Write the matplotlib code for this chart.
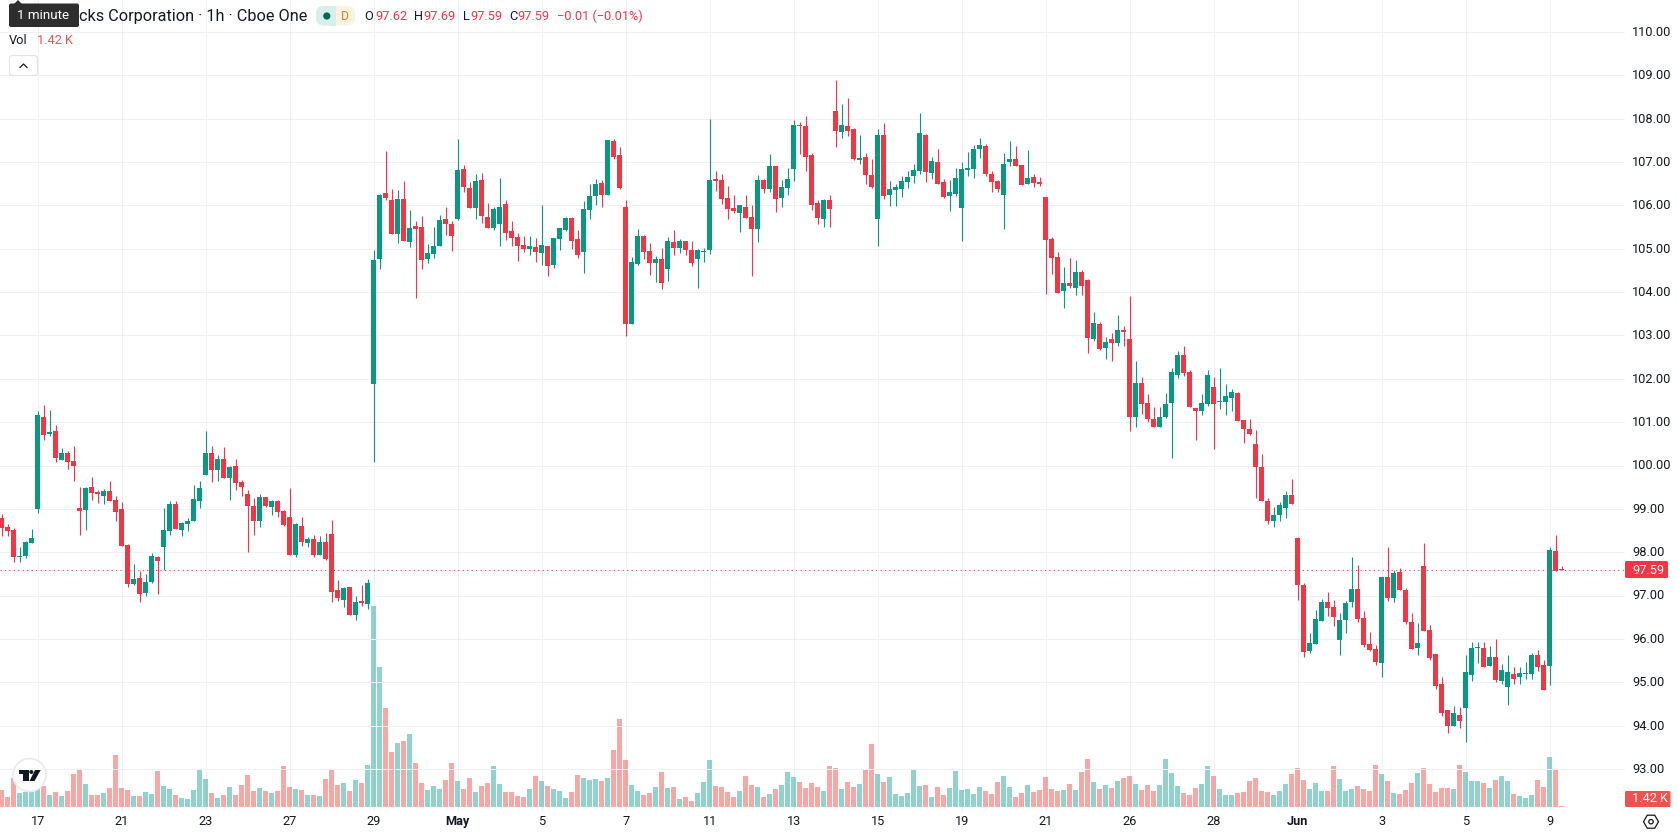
import matplotlib
matplotlib.use("Agg")
import matplotlib.pyplot as plt
from matplotlib.patches import Rectangle, FancyBboxPatch, Circle, Polygon, RegularPolygon
import numpy as np

plt.rcParams['font.family'] = ['Roboto', 'DejaVu Sans']

# Hourly session bars, oldest first; bar number 0 falls on the "17" date tick.
FIRST_BAR = -6
opens = [
    98.79,98.58,98.52,97.89,97.92,98.22,99.00,101.12,100.73,100.80,
    100.13,100.29,100.11,99.02,98.98,99.51,99.39,99.30,99.42,99.21,
    99.00,98.17,97.27,97.41,97.06,97.32,97.89,98.12,98.49,99.12,
    98.52,98.65,98.72,99.18,99.78,100.29,99.90,100.15,99.72,99.99,
    99.62,99.35,99.07,98.72,99.28,99.05,99.18,98.95,98.82,97.94,
    98.61,98.22,98.31,97.94,98.24,98.42,97.13,96.90,97.20,96.55,
    96.88,96.81,101.89,104.77,106.29,106.13,105.35,106.15,105.16,105.53,
    105.51,104.77,104.88,105.07,105.69,105.58,105.69,106.85,106.41,105.95,
    106.59,105.74,105.48,105.58,106.04,105.42,105.28,105.09,105.00,105.05,
    104.91,105.07,104.63,105.23,105.44,105.72,105.23,104.93,105.90,106.22,
    106.52,106.25,107.49,107.17,105.97,103.27,104.65,105.30,104.95,104.68,
    104.77,104.54,105.16,105.02,105.18,104.98,104.77,104.93,104.98,106.62,
    106.59,106.18,105.95,105.83,105.97,105.74,105.46,106.58,106.38,106.91,
    106.17,106.40,106.84,107.85,107.83,107.16,106.05,105.68,106.12,108.18,
    107.69,107.83,107.76,107.05,107.12,106.70,105.68,107.62,106.24,106.35,
    106.38,106.54,106.68,106.79,107.62,106.75,107.00,106.54,106.22,106.26,
    105.94,106.82,106.84,107.30,107.37,106.72,106.56,106.24,107.00,107.07,
    106.93,106.49,106.65,106.54,106.19,105.22,104.82,104.03,104.22,104.10,
    104.47,104.29,102.92,103.27,102.71,102.92,102.83,103.13,102.92,101.12,
    101.90,101.44,101.07,100.88,101.12,101.44,102.09,102.55,102.16,101.32,
    101.25,101.42,101.81,101.46,101.46,101.56,101.67,101.05,100.84,100.49,
    99.96,99.17,98.73,98.85,99.03,99.33,98.33,97.25,95.73,95.89,
    96.42,96.86,96.74,95.98,96.44,96.86,97.16,96.49,95.89,95.77,
    95.45,97.43,96.95,97.55,97.13,96.40,95.80,97.69,96.21,95.66,
    94.97,94.35,94.00,94.25,94.41,95.17,95.80,95.80,95.38,95.59,
    95.04,94.90,95.20,95.11,95.20,95.20,95.64,95.40,95.38,98.03,97.62,
]
closes = [
    98.56,98.49,97.89,97.92,98.24,98.33,101.17,100.71,100.78,100.18,
    100.29,100.08,99.99,98.95,99.48,99.37,99.35,99.42,99.18,98.93,
    98.15,97.27,97.38,97.04,97.32,97.92,97.80,98.52,99.12,98.54,
    98.68,98.72,99.23,99.48,100.29,99.90,100.15,99.72,99.97,99.60,
    99.51,99.07,98.72,99.28,99.07,99.18,98.93,98.63,97.94,98.65,
    98.24,98.31,97.94,98.24,97.85,97.08,96.95,97.18,96.55,96.85,
    96.83,97.29,104.73,106.25,106.18,105.35,106.15,105.18,105.48,105.46,
    104.75,104.91,105.07,105.67,105.58,105.30,106.82,106.43,105.95,106.57,
    105.76,105.48,105.92,105.97,105.37,105.25,105.07,105.00,105.07,104.93,
    105.09,104.61,105.25,105.48,105.72,105.18,104.86,105.92,106.22,106.50,
    106.25,107.52,107.12,106.41,103.27,104.70,105.30,104.93,104.68,104.77,
    104.22,105.18,105.02,105.18,104.98,104.68,104.98,104.95,106.59,106.57,
    106.15,105.92,105.86,106.02,105.72,105.46,106.59,106.38,106.91,106.15,
    106.42,106.61,107.85,107.83,107.12,106.01,105.71,106.12,105.92,107.72,
    107.85,107.72,107.07,107.09,106.70,106.42,107.62,106.22,106.38,106.42,
    106.56,106.65,106.82,107.67,106.77,107.02,106.49,106.19,106.31,106.63,
    106.84,106.86,107.30,107.39,106.72,106.54,106.38,106.95,107.07,106.91,
    106.47,106.63,106.52,106.49,105.20,104.78,103.99,104.22,104.13,104.47,
    104.13,102.95,103.29,102.69,102.85,102.83,103.13,103.08,101.12,101.90,
    101.42,101.07,100.88,101.12,101.42,102.16,102.55,102.14,101.35,101.25,
    101.44,102.09,101.42,101.49,101.60,101.69,101.02,100.84,100.72,99.96,
    99.17,98.71,98.85,99.10,99.33,99.12,97.25,95.70,95.91,96.46,
    96.86,96.72,96.51,96.44,96.83,97.16,96.46,95.87,95.75,95.47,
    97.43,96.95,97.52,97.13,96.40,95.77,95.91,96.19,95.57,94.92,
    94.30,94.00,94.28,94.11,95.24,95.80,95.82,95.36,95.59,95.06,
    95.29,95.24,95.08,95.22,95.22,95.64,95.36,94.81,98.05,97.57,97.59,
]
highs = [
    98.88,98.65,98.55,98.12,98.26,98.54,101.26,101.40,101.28,100.94,
    100.41,100.34,100.45,99.51,99.51,99.74,99.44,99.46,99.65,99.30,
    99.16,98.18,97.73,97.57,97.50,97.98,97.92,99.02,99.18,99.18,
    98.70,98.79,99.55,99.65,100.80,100.45,100.25,100.43,100.00,100.15,
    99.67,99.44,99.25,99.35,99.28,99.21,99.21,98.98,99.48,98.68,
    98.82,98.35,98.40,98.38,98.45,98.75,97.36,97.20,97.20,96.99,
    97.25,97.38,104.96,106.26,107.26,106.38,106.36,106.57,105.90,105.65,
    105.76,105.12,105.51,105.78,105.97,105.65,107.54,106.94,106.55,106.73,
    106.75,106.05,105.97,106.64,106.13,105.65,105.37,105.30,105.30,105.25,
    106.02,105.07,105.25,105.48,105.74,105.74,105.44,106.11,106.50,106.62,
    106.59,107.52,107.54,107.35,106.13,104.82,105.46,105.32,105.14,104.84,
    105.02,105.28,105.44,105.23,105.18,105.18,105.00,105.02,108.00,106.80,
    106.73,106.45,106.25,106.02,106.25,106.02,106.71,106.61,107.18,106.91,
    106.58,106.86,107.97,107.92,108.06,107.21,106.12,106.15,106.24,108.89,
    108.34,108.48,107.78,107.62,107.21,107.07,107.76,107.90,106.56,106.49,
    106.68,106.79,106.95,108.13,107.65,107.12,107.30,106.61,106.58,106.86,
    107.00,107.23,107.39,107.55,107.42,106.79,106.58,107.21,107.48,107.37,
    106.93,107.28,106.72,106.65,106.19,105.27,104.92,104.57,104.78,104.73,
    104.52,104.31,103.55,103.32,102.97,103.06,103.48,103.22,103.90,102.41,
    102.04,101.65,101.35,101.35,101.67,102.25,102.64,102.76,102.20,101.32,
    101.65,102.20,102.04,102.25,101.88,101.76,101.69,101.05,101.07,100.81,
    100.26,99.24,99.05,99.15,99.42,99.68,98.35,97.29,96.14,96.67,
    96.93,97.09,96.90,96.60,96.88,97.89,97.71,96.65,96.16,95.87,
    97.43,98.12,97.59,97.64,97.18,96.60,96.37,98.21,96.33,95.66,
    95.11,94.37,94.46,94.44,95.64,95.93,95.93,95.93,95.84,96.00,
    95.43,95.64,95.36,95.36,95.47,95.68,95.75,95.52,98.12,98.40,97.69,
]
lows = [
    98.38,98.38,97.78,97.78,97.87,98.22,98.91,100.59,100.68,100.08,
    100.13,99.92,99.65,98.40,98.52,99.21,99.14,99.12,99.18,98.72,
    98.15,97.20,97.25,96.85,96.99,97.29,97.04,97.59,98.40,98.54,
    98.38,98.49,98.72,99.02,99.78,99.62,99.65,99.72,99.21,99.44,
    99.30,98.01,98.40,98.58,99.05,98.86,98.82,98.61,97.94,97.89,
    98.15,98.12,97.89,97.94,97.82,96.85,96.88,96.74,96.55,96.44,
    96.76,96.69,100.09,104.54,106.13,105.35,105.14,105.18,105.05,103.87,
    104.54,104.68,104.79,105.07,105.32,104.95,105.67,106.32,105.95,105.69,
    105.60,105.48,105.44,105.07,105.21,105.07,104.72,104.93,104.86,104.70,
    104.63,104.38,104.56,104.98,105.42,105.00,104.79,104.45,105.69,106.02,
    105.97,106.25,107.08,106.38,102.99,103.27,104.63,104.77,104.40,104.24,
    104.08,104.26,104.86,104.91,104.86,104.61,104.10,104.70,104.88,106.34,
    106.04,105.69,105.83,105.39,105.72,104.38,105.16,106.28,106.31,105.85,
    105.96,106.24,106.56,107.18,106.79,105.89,105.57,105.50,105.50,107.35,
    107.55,107.60,107.05,106.95,106.49,106.40,105.06,106.15,105.98,105.98,
    106.19,106.40,106.52,106.72,106.54,106.61,106.49,106.17,105.87,106.22,
    105.18,106.68,106.63,107.09,106.68,106.31,106.31,105.45,106.91,106.91,
    106.47,106.49,106.42,106.45,103.95,104.41,103.99,103.64,104.10,103.94,
    103.94,102.60,102.88,102.67,102.46,102.41,102.76,102.76,100.79,100.88,
    101.19,101.00,100.88,100.88,101.09,100.17,102.02,102.07,101.35,100.58,
    101.16,101.37,100.37,101.30,101.16,101.25,101.02,100.51,100.70,99.26,
    99.17,98.64,98.59,98.73,98.80,99.12,96.90,95.59,95.68,95.89,
    96.42,96.53,96.30,95.64,96.14,96.74,96.39,95.82,95.73,95.40,
    95.13,96.88,96.86,97.13,96.35,95.77,95.64,96.19,95.52,94.85,
    94.23,93.82,94.00,93.95,93.63,95.04,95.45,95.36,95.38,95.01,
    94.97,94.48,94.97,94.97,95.08,95.08,95.27,94.81,94.94,97.57,97.59,
]
# Traded volume per bar, thousands of shares.
volumes = [
    25.5,15,43.5,21,22.5,22.5,26.5,31.5,18,22.5,
    16.5,24,49.5,55.5,34.5,18,18,21,28.5,78,
    28.5,25.5,16.5,16.5,22.5,19.5,54,31.5,27,18,
    13.5,12,25.5,55.5,42,21,13.5,18,30,18,
    33,48,24,28.5,24,21,24,61.5,30,27,
    25.5,18,18,16.5,42,55.5,33,36,24,40.5,
    36,63,301.5,210.5,148.5,82.5,96,99,109.5,66,
    36,25.5,31.5,27,40.5,66,39,27,43.5,22.5,
    31.5,36,61.5,34.5,22.5,22.5,16.5,15,27,46.5,
    39,31.5,27,24,13.5,22.5,48,43.5,40.5,42,
    39,43.5,85.5,132,70.5,33,24,18,21,30,
    52.5,28.5,30,12,15,9,21,37.5,70.5,31.5,
    30,22.5,15,24,46.5,33,30,15,19.5,27,
    33,52.5,45,37.5,28.5,36,30,24,61.5,58.5,
    27,37.5,30,34.5,55.5,94.5,49.5,37.5,45,19.5,
    16.5,21,57,31.5,33,15,30,18,28.5,54,
    25.5,27,19.5,30,24,19.5,37.5,46.5,30,15,
    21,33,22.5,25.5,45,27,24,25.5,34.5,25.5,
    52.5,72,37.5,27,33,28.5,39,43.5,46.5,34.5,
    25.5,33,24,33,72,51,31.5,21,18,28.5,
    34.5,61.5,46.5,27,18,18,21,22.5,39,43.5,
    24,22.5,18,24,34.5,49.5,58.5,40.5,27,36,
    24,24,61.5,42,24,27,31.5,27,24,63,
    49.5,39,21,19.5,25.5,36,51,58.5,34.5,22.5,
    28.5,28.5,27,63,52.5,39,39,36,28.5,40.5,
    46.5,39,19.5,16.5,13.5,18,40.5,30,75,57,1.42,
]
date_labels = ['17','21','23','27','29','May','5','7','11','13','15','19','21',
               '26','28','Jun','3','5','9']
BARS_PER_LABEL = 14
price_ticks = list(range(93, 111))
last_price = 97.59
last_volume_text = '1.42 K'

UP = '#089981'
DOWN = '#f23645'
VOL_UP = '#26a69a'
VOL_DOWN = '#ef5350'
GRID = '#f0f1f4'
INK = '#131722'

W, H = 1678, 835
PLOT_R = 1624.5
PLOT_B = 811.0
fig = plt.figure(figsize=(W / 100, H / 100), dpi=100, facecolor='white')
axpos = [0, 1 - PLOT_B / H, PLOT_R / W, PLOT_B / H]

# Scale helpers: 6 px per bar, 43.35 px per dollar.
Y94 = 725.6
xl = (-37.67 / 6, (PLOT_R - 37.67) / 6)
yl = (94 + (Y94 - PLOT_B) / 43.35, 94 + Y94 / 43.35)

# Volume pane sits under the candles, in its own scale on the same frame.
vax = fig.add_axes(axpos, zorder=1)
vax.set_xlim(*xl)
PX_PER_K = 1 / 1.5
vax.set_ylim((807 - PLOT_B) / PX_PER_K, 807 / PX_PER_K)
vax.axis('off')

ax = fig.add_axes(axpos, zorder=2)
ax.patch.set_alpha(0)
ax.set_xlim(*xl)
ax.set_ylim(*yl)
for s in ax.spines.values():
    s.set_visible(False)
ax.set_xticks([])
ax.set_yticks([])

bars = np.arange(FIRST_BAR, FIRST_BAR + len(opens))
o, h, l, c = map(np.array, (opens, highs, lows, closes))
rising = c >= o

tick_bars = np.arange(len(date_labels)) * BARS_PER_LABEL
for b in tick_bars:
    vax.axvline(b, color=GRID, lw=0.72, zorder=0)
for p in price_ticks:
    ax.axhline(p, color=GRID, lw=0.72, zorder=0)

vax.bar(bars, volumes, width=0.8, color=[VOL_UP if r else VOL_DOWN for r in rising],
        alpha=0.5, linewidth=0, zorder=2)

colors = [UP if r else DOWN for r in rising]
ax.vlines(bars, l, h, colors=colors, lw=0.8, zorder=3)
ax.bar(bars, c - o, bottom=o, width=0.83, color=colors, linewidth=0, zorder=4)
ax.axhline(last_price, color=DOWN, lw=0.8, ls=(0, (1, 3)), zorder=5)

# Overlay in plain pixels for the header, price scale and date scale.
ov = fig.add_axes([0, 0, 1, 1], zorder=5)
ov.set_xlim(0, W)
ov.set_ylim(H, 0)
ov.axis('off')
ov.patch.set_alpha(0)

for p in price_ticks:
    y = Y94 - (p - 94) * 43.35
    ov.text(1632, y + 0.4, f'{p:.2f}', fontsize=9.2, color=INK, va='center', ha='left')

for b, lab in zip(tick_bars, date_labels):
    x = 37.67 + 6 * b
    bold = lab in ('May', 'Jun')
    ov.text(x, 821.7, lab, fontsize=9.2, color=INK, va='center', ha='center',
            fontweight='bold' if bold else 'normal')

def tag(x0, x1, y0, y1, color):
    ov.add_patch(FancyBboxPatch((x0 + 1, y0 + 1), x1 - x0 - 2, y1 - y0 - 2,
                                boxstyle='round,pad=1,rounding_size=1.5',
                                fc=color, ec='none', zorder=6))

tag(1625, 1668, 561, 578, DOWN)
ov.text(1632, 570, f'{last_price:.2f}', fontsize=9.2, color='white', va='center', zorder=7)
tag(1625, 1670.5, 791, 807, VOL_DOWN)
ov.text(1632, 799, last_volume_text, fontsize=9.2, color='white', va='center', zorder=7)

# Header line.
ov.text(79, 16.5, 'cks Corporation · 1h · Cboe One', fontsize=11.7, color=INK, va='center', zorder=7)
ov.add_patch(FancyBboxPatch((318, 8), 35, 15.5, boxstyle='round,pad=2,rounding_size=8',
                            fc='#fdf3e4', ec='none', zorder=6))
ov.add_patch(FancyBboxPatch((318, 8), 15, 15.5, boxstyle='round,pad=2,rounding_size=8',
                            fc='#d6efeb', ec='none', zorder=6))
ov.add_patch(Rectangle((330, 6), 6, 19.5, fc='#d6efeb', ec='none', zorder=6))
ov.add_patch(Circle((326.8, 16), 3.6, fc='#056656', ec='none', zorder=7))
ov.text(345, 16.5, 'D', fontsize=8.8, color='#f57c00', va='center', ha='center', zorder=7)

legend = [(364.7, 'O', INK), (375, '97.62', DOWN), (413.8, 'H', INK), (423, '97.69', DOWN),
          (463, 'L', INK), (470, '97.59', DOWN), (509, 'C', INK), (517, '97.59', DOWN),
          (557, '−0.01 (−0.01%)', DOWN)]
for x, s, col in legend:
    ov.text(x, 16.5, s, fontsize=9.2, color=col, va='center', zorder=7)

ov.text(9, 41, 'Vol', fontsize=9.2, color=INK, va='center', zorder=7)
ov.text(37, 41, last_volume_text, fontsize=9.2, color=VOL_DOWN, va='center', zorder=7)

ov.add_patch(FancyBboxPatch((11, 57), 25, 17, boxstyle='round,pad=1.5,rounding_size=3',
                            fc='white', ec='#e0e3eb', lw=0.8, zorder=6))
ov.plot([20, 23.5, 27], [67.5, 64, 67.5], color=INK, lw=0.9, zorder=7)

# "1 minute" tooltip over the start of the title.
ov.add_patch(FancyBboxPatch((11, 5.5), 66, 19.5, boxstyle='round,pad=2,rounding_size=2',
                            fc='#2e2e2e', ec='none', zorder=8))
ov.add_patch(Polygon([[14, 4], [18, 0], [22, 4]], fc='#2e2e2e', ec='none', zorder=8))
ov.text(43.5, 15.5, '1 minute', fontsize=9.6, color='white', va='center', ha='center', zorder=9)

# Logo badge.
ov.add_patch(Circle((29.5, 775), 16.5, fc='white', ec='#e9eaee', lw=1.2, zorder=6))
ov.add_patch(Polygon([[19, 770], [28.7, 770], [28.7, 781], [23.3, 781], [23.3, 774], [19, 774]],
                     fc='#131722', ec='none', zorder=7))
ov.add_patch(Circle((31.3, 772), 2.0, fc='#131722', ec='none', zorder=7))
ov.add_patch(Polygon([[35, 770], [40.7, 770], [34.5, 781], [29.5, 781]], fc='#131722', ec='none', zorder=7))

# Settings glyph on the corner of the scales.
ov.add_patch(RegularPolygon((1651, 821.7), 6, radius=7.5, orientation=np.pi / 6,
                            fill=False, ec=INK, lw=0.9, zorder=7))
ov.add_patch(Circle((1651, 821.7), 2.2, fill=False, ec=INK, lw=0.9, zorder=7))

fig.savefig('out.png', dpi=100, facecolor='white')
